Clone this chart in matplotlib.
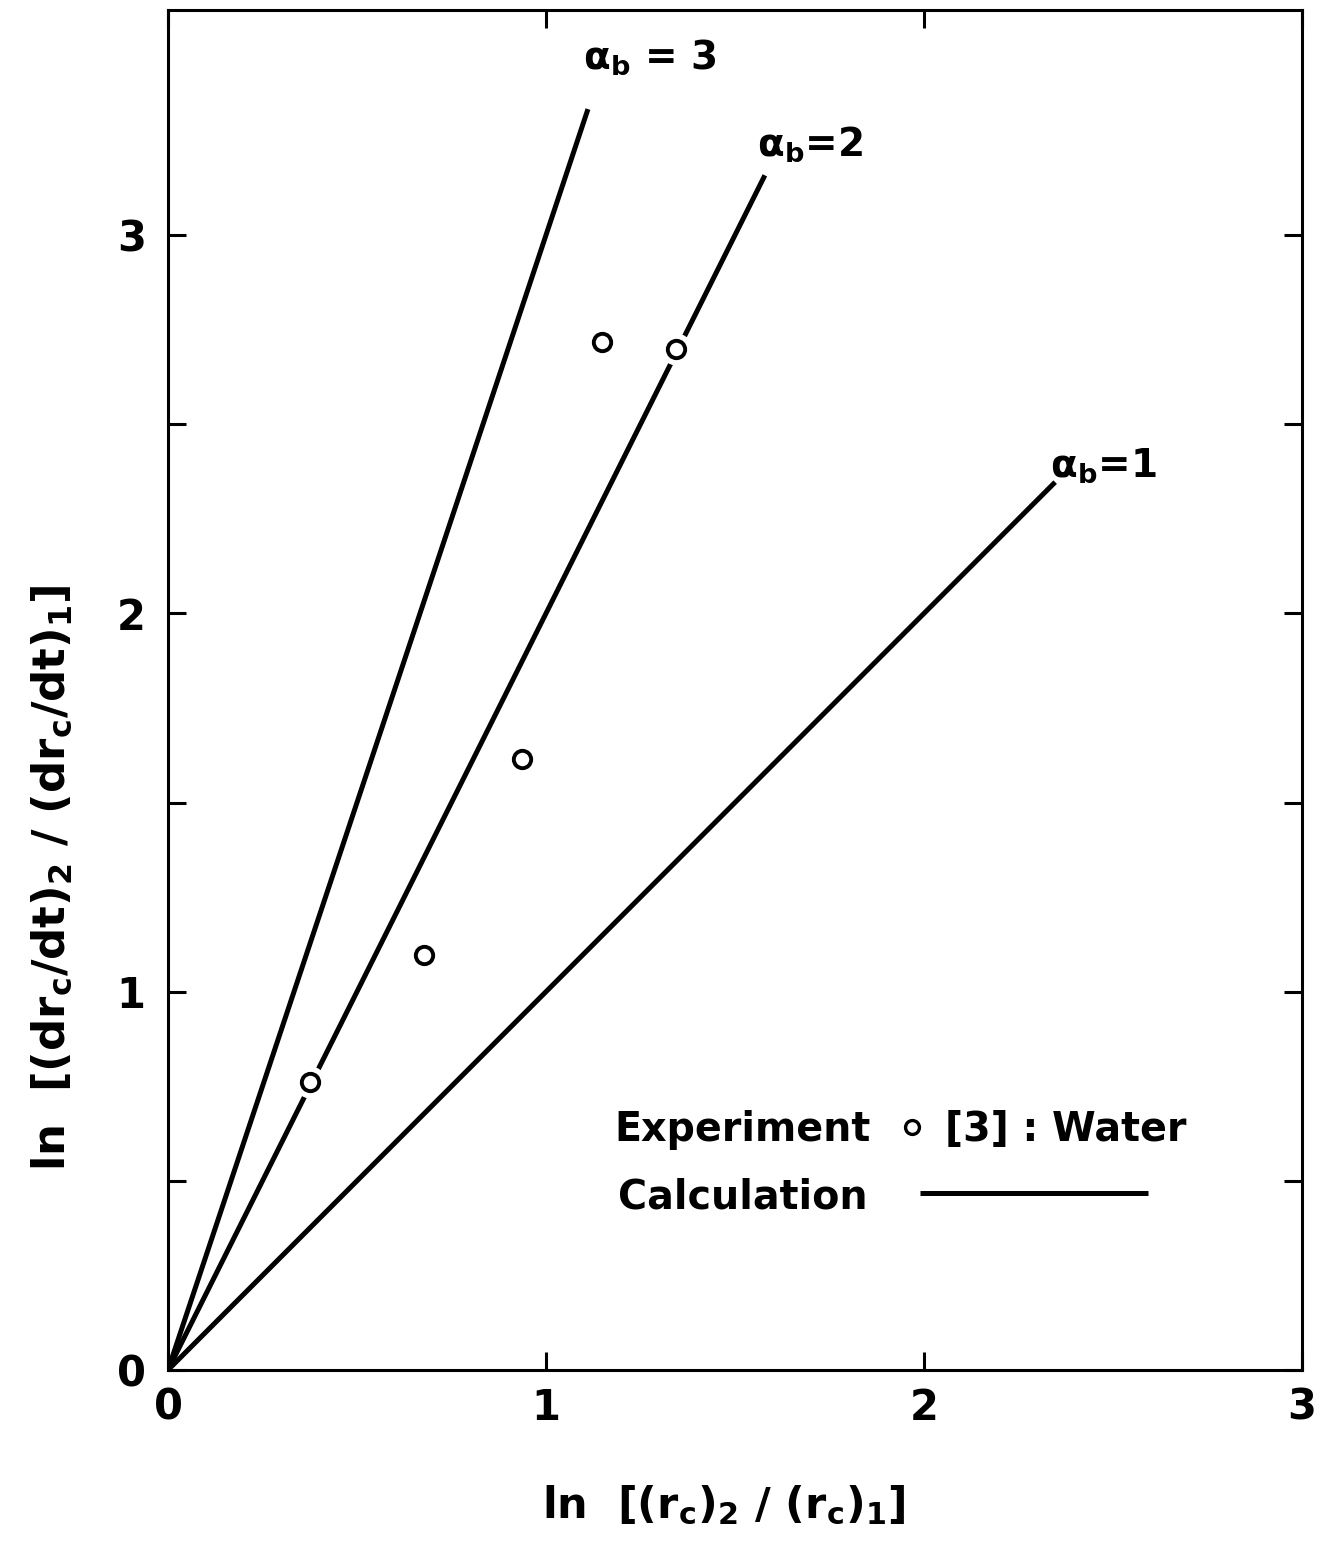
import matplotlib
matplotlib.use("Agg")
import matplotlib.pyplot as plt
import numpy as np

plt.rcParams['font.family'] = ['DejaVu Sans']
plt.rcParams['mathtext.default'] = 'regular'

# Calculated lines: slope alpha_b, from origin to the drawn end
alpha_b = [3, 2, 1]
line_x_end = [1.111, 1.579, 2.347]
line_labels = ['α$_b$ = 3', 'α$_b$=2', 'α$_b$=1']
label_pos_x = [1.098, 1.558, 2.333]
label_pos_y = [3.47, 3.24, 2.39]

# Experimental points [3]: Water
exp_x = [0.376, 0.677, 0.937, 1.148, 1.344]
exp_y = [0.762, 1.098, 1.614, 2.717, 2.698]

x_ticks = [0, 1, 2, 3]
y_major = [0, 1, 2, 3]
y_minor = [0.5, 1.5, 2.5]

W, H = 1321, 1549
fig = plt.figure(figsize=(W / 100, H / 100), dpi=100)
ax = fig.add_axes([168 / W, 179 / H, (1302 - 168) / W, (1370 - 10) / H])
ax.set_xlim(0, 3)
ax.set_ylim(0, 3.595)

WEIGHT = 'bold'
lw = 3.6
for a, xe in zip(alpha_b, line_x_end):
    xs = np.array([0.0, xe])
    ax.plot(xs, a * xs, color='black', lw=lw, solid_capstyle='butt', zorder=2)

ax.plot(exp_x, exp_y, linestyle='none', marker='o', ms=22, mfc='white',
        mec='white', zorder=3)
ax.plot(exp_x, exp_y, linestyle='none', marker='o', ms=12.5, mfc='white',
        mec='black', mew=2.8, zorder=4)

for lab, lx, ly in zip(line_labels, label_pos_x, label_pos_y):
    ax.text(lx, ly, lab, fontsize=28, fontweight=WEIGHT,
            ha='left', va='center')

# legend block
fs_leg = 28.5
ax.text(0.394, 0.1765, 'Experiment', transform=ax.transAxes, fontsize=fs_leg,
        fontweight=WEIGHT, ha='left', va='center')
ax.plot([0.656], [0.179], transform=ax.transAxes, marker='o', ms=10,
        mfc='white', mec='black', mew=2.4, linestyle='none')
ax.text(0.685, 0.1765, '[3] : Water', transform=ax.transAxes, fontsize=fs_leg,
        fontweight=WEIGHT, ha='left', va='center')
ax.text(0.397, 0.127, 'Calculation', transform=ax.transAxes, fontsize=fs_leg,
        fontweight=WEIGHT, ha='left', va='center')
ax.plot([0.663, 0.864], [0.130, 0.130], transform=ax.transAxes, color='black',
        lw=lw, solid_capstyle='butt')

for s in ax.spines.values():
    s.set_linewidth(2.2)

ax.set_xticks(x_ticks)
ax.set_xticklabels([str(v) for v in x_ticks])
ax.set_yticks(y_major)
ax.set_yticklabels([str(v) for v in y_major])
ax.set_yticks(y_minor, minor=True)
ax.tick_params(axis='both', which='both', direction='in', length=13, width=2.2,
               top=True, right=True, labelsize=30)
ax.tick_params(axis='x', which='major', pad=12)
ax.tick_params(axis='y', which='major', pad=16)
for t in ax.get_xticklabels() + ax.get_yticklabels():
    t.set_fontweight(WEIGHT)

fig.text(724 / W, 1 - 1505 / H, 'ln  [(r$_c$)$_2$ / (r$_c$)$_1$]', fontsize=31,
         fontweight=WEIGHT, ha='center', va='center')
fig.text(52 / W, 1 - 878 / H, 'ln  [(dr$_c$/dt)$_2$ / (dr$_c$/dt)$_1$]',
         fontsize=32.5, fontweight=WEIGHT, ha='center', va='center',
         rotation=90)

fig.savefig('out.png', dpi=100)
